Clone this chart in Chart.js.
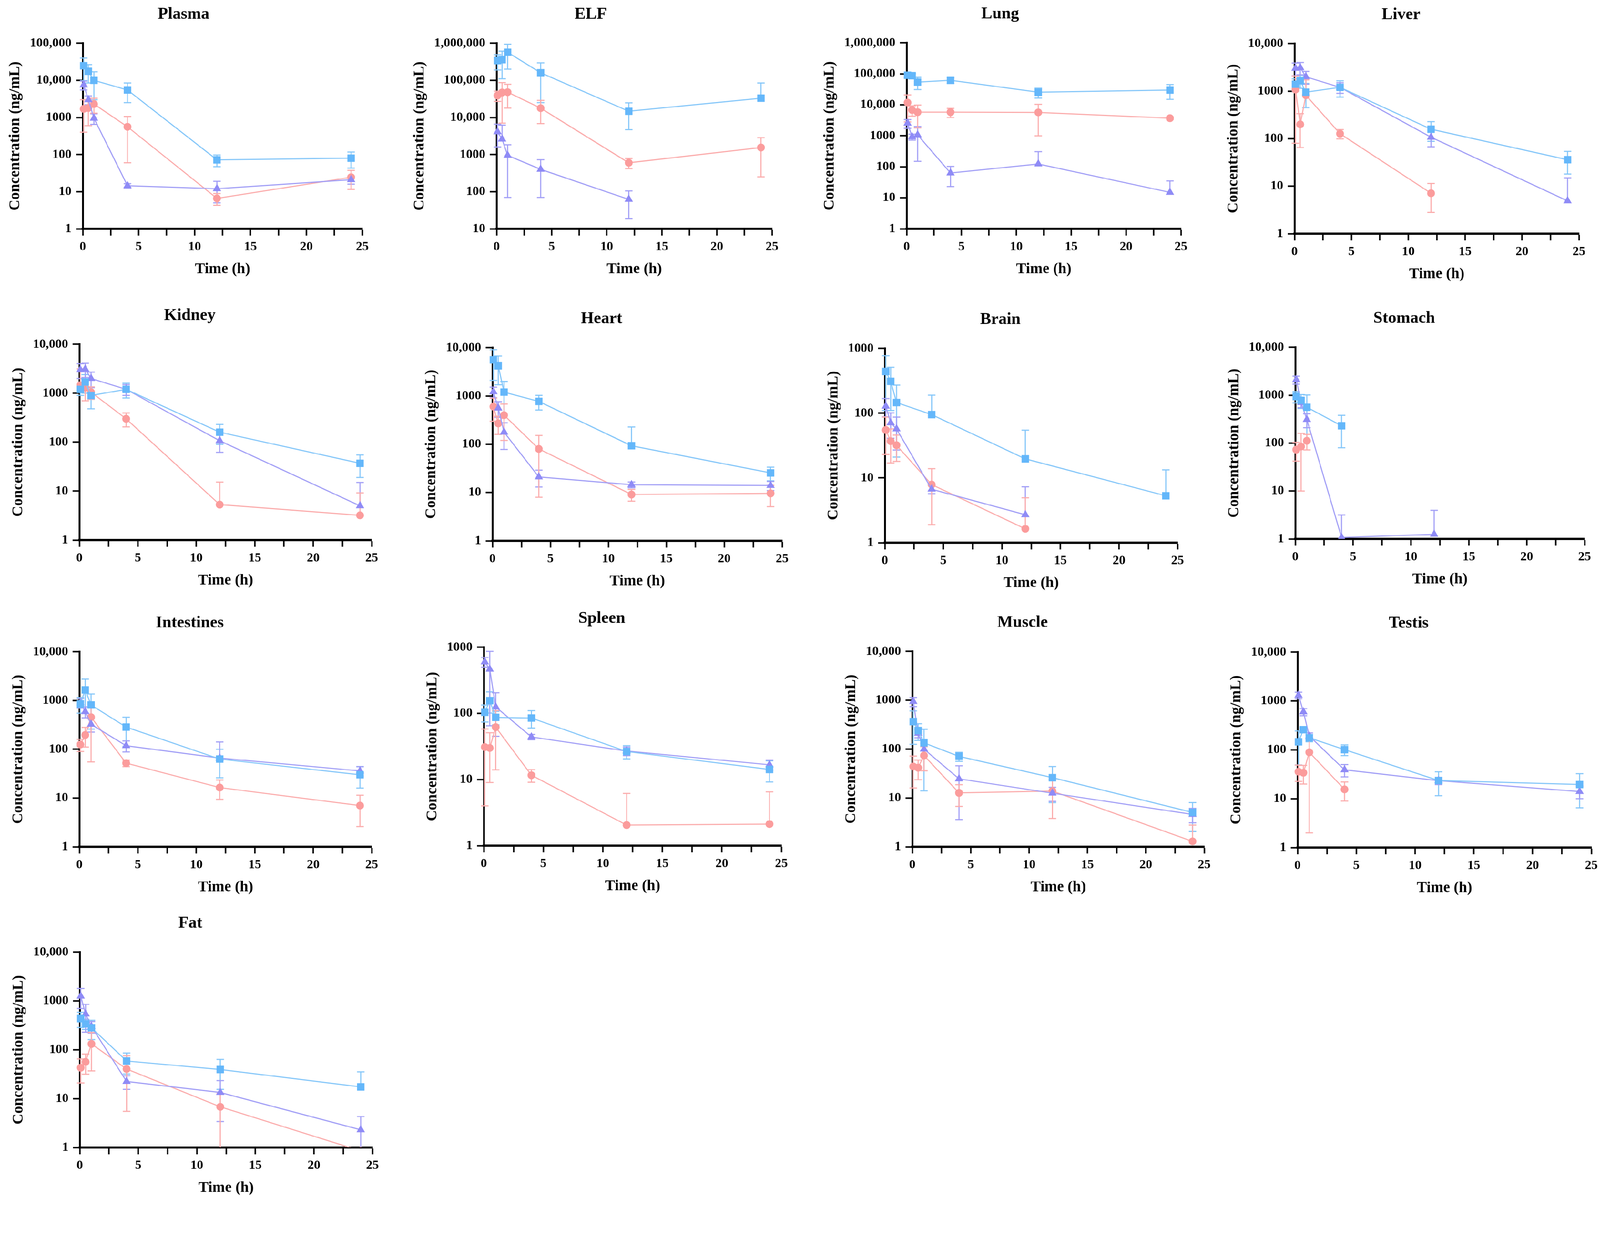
<!DOCTYPE html>
<html>
<head>
<meta charset="utf-8">
<script src="https://cdn.jsdelivr.net/npm/chart.js@4.4.1/dist/chart.umd.min.js"></script>
<style>
  html, body { margin: 0; padding: 0; background: #fff; overflow: hidden; }
  #frame { position: relative; overflow: hidden; background: #fff; }
  #page { position: absolute; left: 0; top: 0; width: 4253px; height: 3209px; transform-origin: 0 0; background: #fff; }
  #page canvas { position: absolute; }
</style>
</head>
<body>
<div id="frame"><div id="page"></div></div>
<script>
// sampling times (h)
const TIMES = [0.083, 0.5, 1, 4, 12, 24];
const SERIES = ['Group 1', 'Group 2', 'Group 3'];
const TISSUES = ['Plasma', 'ELF', 'Lung', 'Liver', 'Kidney', 'Heart', 'Brain', 'Stomach',
                 'Intestines', 'Spleen', 'Muscle', 'Testis', 'Fat'];
const Y_MIN = [1, 10, 1, 1, 1, 1, 1, 1, 1, 1, 1, 1, 1];
const Y_MAX = [1e5, 1e6, 1e6, 1e4, 1e4, 1e4, 1e3, 1e4, 1e4, 1e3, 1e4, 1e4, 1e4];
const X_TICKS = [0, 2.5, 5, 7.5, 10, 12.5, 15, 17.5, 20, 22.5, 25];

// rows: square (blue), triangle (purple), circle (pink)
const plasmaMean = [[24800, 17500, 10000, 5500, 72, 80], [7500, 3000, 950, 14.5, 12, 21], [1700, 1800, 2300, 560, 6.6, 24.5]];
const plasmaSd = [[15000, 9000, 7000, 3000, 25, 37], [2000, 800, 300, 2, 7, 5], [1300, 1200, 1000, 500, 2.3, 13]];
const elfMean = [[340000, 360000, 570000, 160000, 14700, 33000], [4100, 2600, 950, 400, 62, null], [39000, 47000, 48000, 17800, 600, 1550]];
const elfSd = [[150000, 250000, 370000, 135000, 10000, 52000], [2500, 3600, 880, 330, 43, null], [12000, 40000, 30000, 11000, 180, 1300]];
const lungMean = [[90000, 87000, 54000, 62000, 25500, 30000], [2550, 930, 1070, 63, 123, 15], [11800, 6800, 5800, 5800, 5700, 3700]];
const lungSd = [[15000, 15000, 23000, 13000, 9000, 15000], [800, 200, 920, 40, 185, 20], [9000, 2500, 4000, 1900, 4700, 350]];
const liverMean = [[1400, 1650, 950, 1200, 158, 36], [3000, 3100, 2000, 1200, 107, 4.9], [1080, 200, 820, 127, 7.1, null]];
const liverSd = [[400, 500, 500, 450, 70, 18], [900, 900, 600, 300, 40, 10], [1000, 135, 900, 28, 4.3, null]];
const kidneyMean = [[1200, 1700, 900, 1200, 160, 37], [3000, 3100, 2000, 1200, 107, 5], [1450, 1300, 1050, 300, 5.3, 3.2]];
const kidneySd = [[300, 700, 420, 400, 70, 18], [1000, 1000, 700, 300, 45, 10], [1700, 600, 300, 95, 10, 6]];
const heartMean = [[5600, 4200, 1200, 770, 93, 25.5], [1220, 560, 178, 21, 14.5, 14], [600, 270, 400, 80, 9.1, 9.6]];
const heartSd = [[3500, 2500, 800, 260, 135, 8], [300, 200, 100, 8, 2, 3], [300, 110, 280, 72, 2.5, 4.5]];
const brainMean = [[440, 310, 146, 95, 19.7, 5.3], [128, 71, 57, 6.7, 2.7, null], [55, 37, 32, 7.9, 1.64, null]];
const brainSd = [[330, 200, 125, 95, 35, 8], [40, 30, 30, 1, 4.6, null], [32, 20, 14, 6, 3.3, null]];
const stomachMean = [[940, 780, 560, 230, null, null], [2100, 700, 310, 1.07, 1.25, null], [73, 85, 112, null, null, null]];
const stomachSd = [[250, 250, 450, 150, null, null], [400, 150, 100, 2.1, 2.7, null], [31, 75, 40, null, null, null]];
const intestinesMean = [[850, 1650, 810, 285, 63, 30], [900, 590, 325, 118, 66, 36], [125, 196, 455, 52, 16.4, 7.0]];
const intestinesSd = [[300, 1100, 550, 170, 37, 14], [200, 150, 100, 30, 75, 8], [35, 85, 400, 8, 7, 4.4]];
const spleenMean = [[104, 156, 87, 85, 26.5, 14.2], [600, 465, 125, 44, 27, 16.7], [31, 30, 62, 11.6, 2.05, 2.12]];
const spleenSd = [[30, 55, 20, 25, 6, 5], [100, 400, 80, 4, 4, 3], [27, 21, 48, 2.5, 4.1, 4.4]];
const muscleMean = [[365, 240, 134, 71, 26, 5.05], [940, 210, 100, 24.6, 12.5, 4.6], [44, 41.6, 74, 12.7, 13.8, 1.29]];
const muscleSd = [[240, 90, 120, 15, 18, 3], [200, 40, 30, 21, 4, 1.5], [28, 18, 38, 6, 10, 1.5]];
const testisMean = [[146, 258, 176, 101, 23.5, 19.5], [1310, 600, 192, 39, 23.4, 14], [35.6, 34, 89, 15.5, null, null]];
const testisSd = [[97, 20, 30, 25, 12, 13], [200, 100, 30, 11, 4, 4], [13, 14, 87, 6.5, null, null]];
const fatMean = [[435, 340, 282, 59, 39.5, 17.4], [1250, 540, 300, 22.5, 13.4, 2.3], [43, 56.7, 132, 40.5, 6.8, 0.85]];
const fatSd = [[150, 80, 120, 27, 24, 18], [550, 310, 80, 7, 10, 2], [22, 25, 95, 35, 6, null]];

const MEANS = [plasmaMean, elfMean, lungMean, liverMean, kidneyMean, heartMean, brainMean, stomachMean,
               intestinesMean, spleenMean, muscleMean, testisMean, fatMean];
const SDS = [plasmaSd, elfSd, lungSd, liverSd, kidneySd, heartSd, brainSd, stomachSd,
             intestinesSd, spleenSd, muscleSd, testisSd, fatSd];

// plot-area boxes on the page [left, top, right, bottom]
const BOXES = [
  [220, 115, 963, 608], [1320, 115, 2052, 608], [2410, 114, 3139, 608], [3441, 116, 4197, 621],
  [211, 915, 988, 1435], [1309, 924, 2079, 1437], [2352, 926, 3130, 1442], [3443, 923, 4212, 1432],
  [211, 1732, 988, 2250], [1286, 1720, 2077, 2247], [2425, 1731, 3201, 2250], [3449, 1733, 4230, 2252],
  [212, 2530, 990, 3049]
];

const COLORS = ['#64b7fa', '#8f8bf6', '#fb9c9c'];
const LINE_COLORS = ['#86c7f9', '#a29ff6', '#fbacac'];
const SHAPES = ['rect', 'triangle', 'circle'];
const RADII = [14, 13, 10.5];
const FAMILY = '"Liberation Serif", "Times New Roman", serif';
const TICK_FONT = { family: FAMILY, size: 34, weight: 'bold' };
const AXIS_FONT = { family: FAMILY, size: 40, weight: 'bold' };
const TITLE_FONT = { family: FAMILY, size: 44, weight: 'bold' };
const TITLE_H = 44 * 1.2 + 10 + 50;
const XAXIS_H = 132;
const RIGHT_PAD = 40;

function fmt(v) {
  return v >= 10000 ? v.toLocaleString('en-US') : String(v);
}

function decades(min, max) {
  const out = [];
  for (let v = min; v <= max * 1.0001; v *= 10) out.push(Math.round(v));
  return out;
}

const mctx = document.createElement('canvas').getContext('2d');
mctx.font = 'bold 34px ' + FAMILY;

const errorBars = {
  id: 'errorBars',
  beforeDatasetsDraw(chart) {
    const { ctx, chartArea } = chart;
    const xs = chart.scales.x, ys = chart.scales.y;
    ctx.save();
    ctx.beginPath();
    ctx.rect(chartArea.left - 20, chartArea.top - 20, chartArea.width + 40, chartArea.height + 20);
    ctx.clip();
    chart.data.datasets.forEach(ds => {
      ctx.strokeStyle = ds.borderColor;
      ctx.lineWidth = 3;
      ds.data.forEach((p, i) => {
        const e = ds.errors[i];
        if (!e) return;
        const px = xs.getPixelForValue(p.x);
        const py = ys.getPixelForValue(p.y);
        const ends = [p.y + e];
        if (p.y - e > 0) ends.push(p.y - e);
        ends.forEach(v => {
          const ey = ys.getPixelForValue(v);
          ctx.beginPath();
          ctx.moveTo(px, py);
          ctx.lineTo(px, ey);
          ctx.moveTo(px - 10, ey);
          ctx.lineTo(px + 10, ey);
          ctx.stroke();
        });
      });
    });
    ctx.restore();
  }
};

// fit the 4253-wide figure to the real viewport width
const fit = document.documentElement.clientWidth / 4253;
const frame = document.getElementById('frame');
const page = document.getElementById('page');
frame.style.width = Math.floor(4253 * fit) + 'px';
frame.style.height = Math.floor(3209 * fit) + 'px';
page.style.transform = 'scale(' + fit + ')';

TISSUES.forEach((name, k) => {
  const [x0, y0, x1, y1] = BOXES[k];
  const yTicks = decades(Y_MIN[k], Y_MAX[k]);
  const labelW = Math.max(...yTicks.map(v => mctx.measureText(fmt(v)).width));
  const yw = Math.ceil(labelW + 18 + 12 + 40 * 1.2 + 4 + 14);

  const canvas = document.createElement('canvas');
  canvas.width = Math.round(yw + (x1 - x0) + RIGHT_PAD);
  canvas.height = Math.round(TITLE_H + (y1 - y0) + XAXIS_H);
  canvas.style.left = Math.round(x0 - yw) + 'px';
  canvas.style.top = Math.round(y0 - TITLE_H) + 'px';
  page.appendChild(canvas);

  const datasets = SERIES.map((label, s) => {
    const pts = [], errs = [];
    TIMES.forEach((t, i) => {
      const m = MEANS[k][s][i];
      if (m === null) return;
      pts.push({ x: t, y: m });
      errs.push(SDS[k][s][i]);
    });
    return {
      label: label,
      data: pts,
      errors: errs,
      borderColor: LINE_COLORS[s],
      backgroundColor: COLORS[s],
      borderWidth: 3,
      pointStyle: SHAPES[s],
      pointRadius: RADII[s],
      pointBorderWidth: 0,
      pointBackgroundColor: COLORS[s],
      tension: 0,
      clip: { left: 40, top: 40, right: 40, bottom: 0 }
    };
  });

  new Chart(canvas, {
    type: 'line',
    data: { datasets: datasets },
    options: {
      responsive: false,
      animation: false,
      devicePixelRatio: 1,
      layout: { padding: { top: 0, left: 0, right: RIGHT_PAD, bottom: 0 } },
      plugins: {
        legend: { display: false },
        tooltip: { enabled: false },
        title: {
          display: true,
          text: name,
          color: '#000',
          font: TITLE_FONT,
          padding: { top: 10, bottom: 50 }
        }
      },
      scales: {
        x: {
          type: 'linear',
          min: 0,
          max: 25,
          afterBuildTicks: s => { s.ticks = X_TICKS.map(v => ({ value: v })); },
          afterFit: s => { s.height = XAXIS_H; },
          border: { display: true, color: '#000', width: 6 },
          grid: { display: true, drawOnChartArea: false, drawTicks: true, tickLength: 18, tickWidth: 4, tickColor: '#000' },
          ticks: {
            color: '#000',
            font: TICK_FONT,
            padding: 10,
            autoSkip: false,
            maxRotation: 0,
            callback: v => (v % 5 === 0 ? v : '')
          },
          title: { display: true, text: 'Time (h)', color: '#000', font: AXIS_FONT, padding: { top: 0, bottom: 0 } }
        },
        y: {
          type: 'logarithmic',
          min: Y_MIN[k],
          max: Y_MAX[k],
          afterBuildTicks: s => { s.ticks = yTicks.map(v => ({ value: v })); },
          afterFit: s => { s.width = yw; },
          border: { display: true, color: '#000', width: 5 },
          grid: { display: true, drawOnChartArea: false, drawTicks: true, tickLength: 18, tickWidth: 4, tickColor: '#000' },
          ticks: { color: '#000', font: TICK_FONT, padding: 12, callback: v => fmt(v) },
          title: { display: true, text: 'Concentration (ng/mL)', color: '#000', font: AXIS_FONT, padding: { top: 4, bottom: 14 } }
        }
      }
    },
    plugins: [errorBars]
  });
});
</script>
</body>
</html>
